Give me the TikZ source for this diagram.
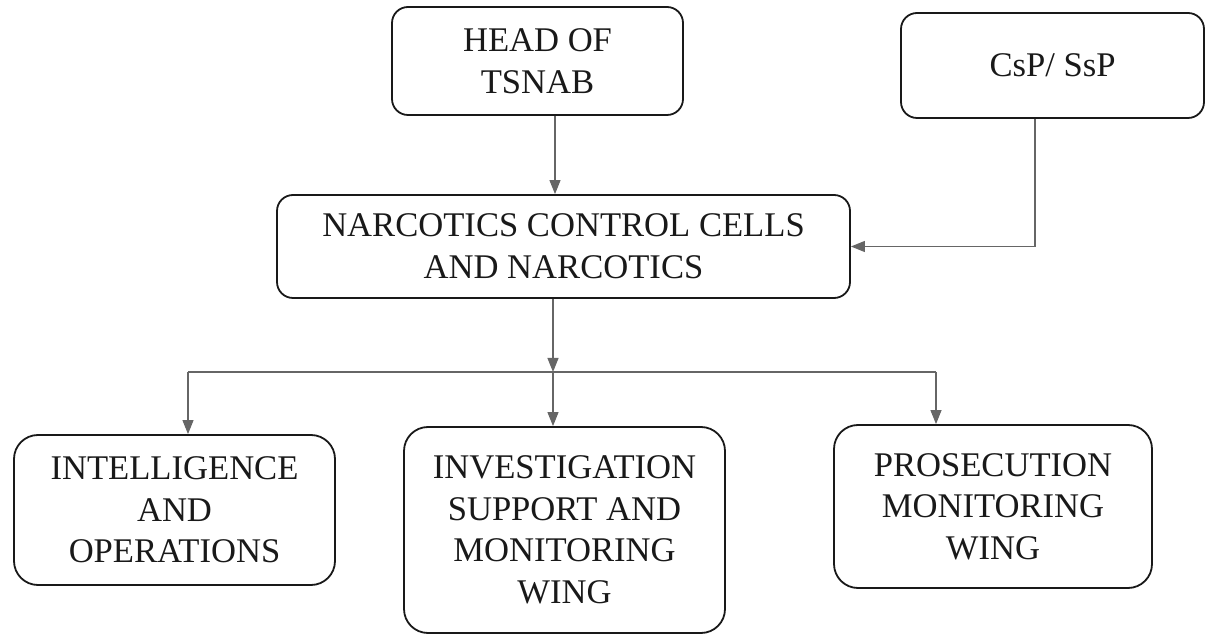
\documentclass[tikz,border=0pt]{standalone}
\usepackage{fontspec}
\setmainfont{Liberation Serif}
\usetikzlibrary{arrows.meta}
\begin{document}
\begin{tikzpicture}[x=0.5pt,y=-0.5pt,
  box/.style={draw=black!90, line width=0.9pt, rounded corners=8pt, inner sep=0pt,
    align=center, font=\fontsize{17.3}{20.8}\selectfont, text=black!90},
  conn/.style={draw=black!60, line width=0.55pt},
  arr/.style={conn, -{Triangle[length=7pt,width=5.5pt]}}]
\useasboundingbox (0,0) rectangle (1209,635);
\node[box, minimum width=145.5pt, minimum height=54pt] (head) at (537.5,61) {HEAD OF\\TSNAB};
\node[box, minimum width=151.5pt, minimum height=52.5pt] (csp) at (1052.5,65.5) {CsP/ SsP};
\node[box, minimum width=286.5pt, minimum height=51.5pt] (narc) at (563.5,246.5) {NARCOTICS CONTROL CELLS\\AND NARCOTICS};
\node[box, rounded corners=12pt, minimum width=160.5pt, minimum height=75pt] (intel) at (174.5,510) {INTELLIGENCE\\AND\\OPERATIONS};
\node[box, rounded corners=12pt, minimum width=160.5pt, minimum height=103pt] (inv) at (564.5,530) {INVESTIGATION\\SUPPORT AND\\MONITORING\\WING};
\node[box, rounded corners=12pt, minimum width=159pt, minimum height=81.5pt] (pros) at (993,506.5) {PROSECUTION\\MONITORING\\WING};
\coordinate (xh) at (555,0);
\coordinate (xc) at (1035,0);
\coordinate (xm) at (553,0);
\coordinate (hl) at (188,372);
\coordinate (hr) at (936,372);
\coordinate (hm) at (553,372);
\draw[arr] (xh |- head.south) -- (xh |- narc.north);
\draw[arr] (xc |- csp.south) |- (narc.east);
\draw[arr] (xm |- narc.south) -- (hm);
\draw[conn] (hl) -- (hr);
\draw[arr] (hl) -- (hl |- intel.north);
\draw[arr] (hm) -- (hm |- inv.north);
\draw[arr] (hr) -- (hr |- pros.north);
\end{tikzpicture}
\end{document}
